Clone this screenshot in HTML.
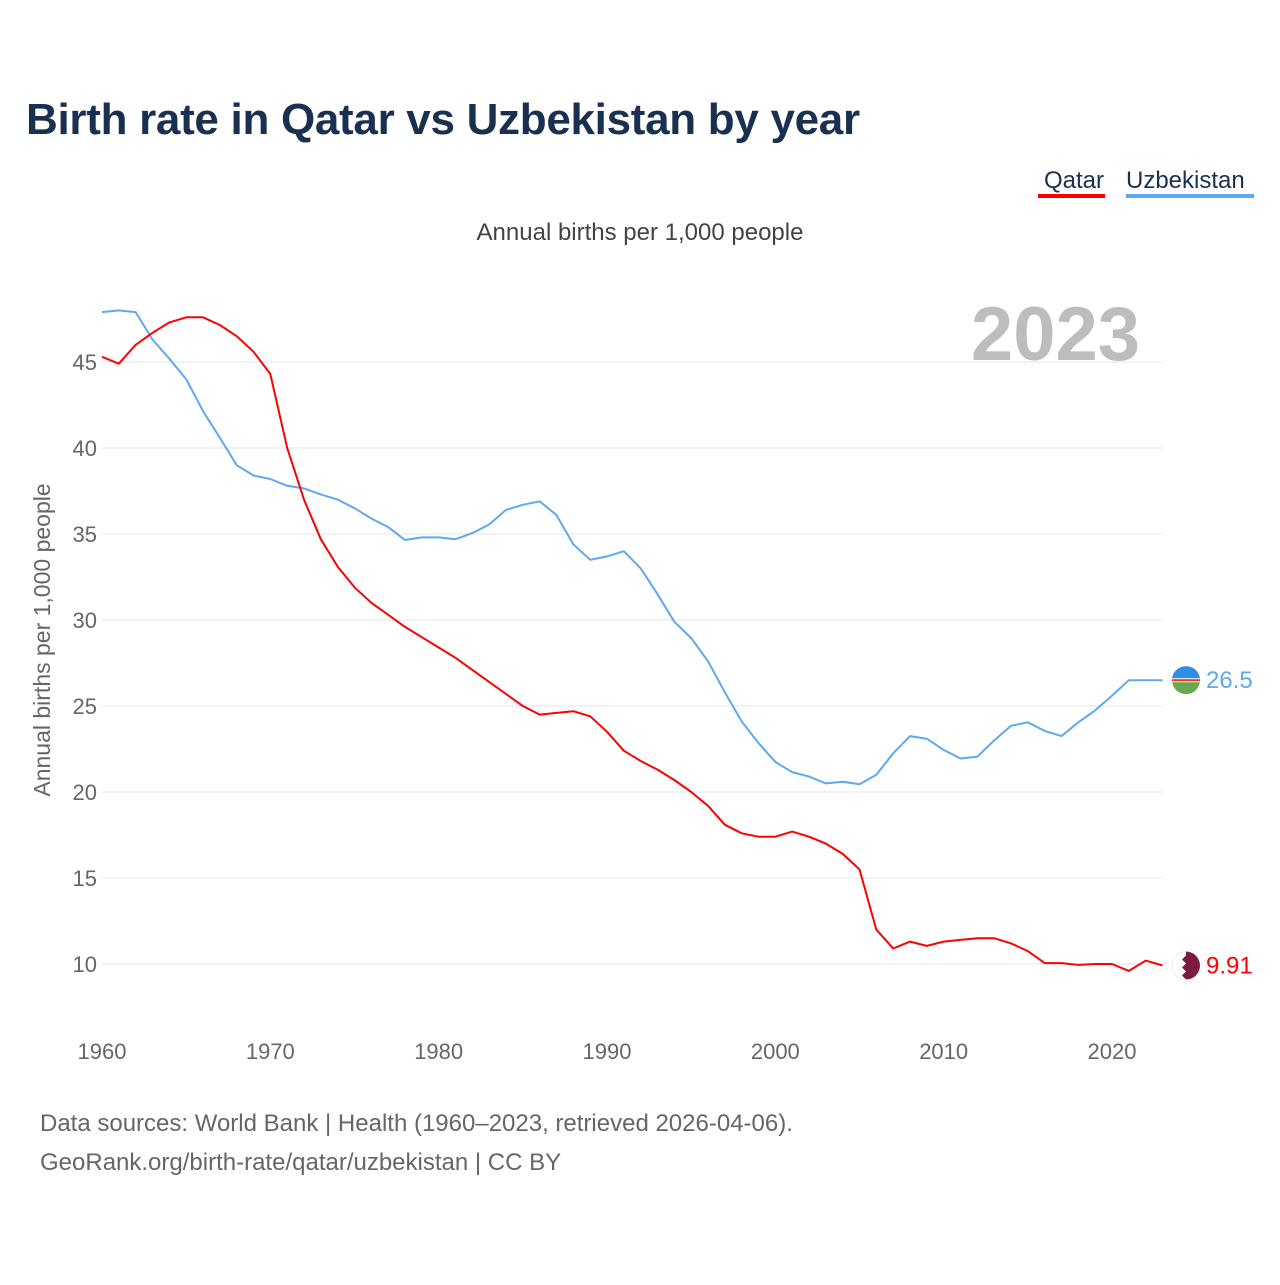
<!DOCTYPE html>
<html><head><meta charset="utf-8">
<style>
body{margin:0;background:#fff;font-family:"Liberation Sans",sans-serif;}
svg text{font-family:"Liberation Sans",sans-serif;}
</style></head>
<body>
<svg width="1280" height="1280" xmlns="http://www.w3.org/2000/svg">
<text x="26" y="134" font-size="44" font-weight="bold" fill="#1a3050" letter-spacing="-0.3">Birth rate in Qatar vs Uzbekistan by year</text>
<g>
<text x="1104" y="188" font-size="24" fill="#1a3050" text-anchor="end">Qatar</text>
<rect x="1038" y="194" width="67" height="4" fill="#ff0000"/>
<text x="1126" y="188" font-size="24" fill="#1a3050">Uzbekistan</text>
<rect x="1126" y="194" width="128" height="4" fill="#5ea8ee"/>
</g>
<text x="640" y="240" font-size="24" fill="#444" text-anchor="middle">Annual births per 1,000 people</text>
<text x="1140" y="360" font-size="76" font-weight="bold" fill="#bdbdbd" text-anchor="end">2023</text>
<text transform="translate(50,640) rotate(-90)" font-size="23" fill="#666" text-anchor="middle">Annual births per 1,000 people</text>
<g id="grid"></g><g id="yticks"></g><g id="xticks"></g><g id="lines"></g><g id="ends"></g>
<text x="40" y="1131" font-size="24" fill="#666">Data sources: World Bank | Health (1960–2023, retrieved 2026-04-06).</text>
<text x="40" y="1170" font-size="24" fill="#666">GeoRank.org/birth-rate/qatar/uzbekistan | CC BY</text>
</svg>
<script>
const years=[];for(let y=1960;y<=2023;y++)years.push(y);
const qatar=[45.3,44.9,46.0,46.7,47.3,47.6,47.6,47.15,46.5,45.6,44.3,40,37,34.7,33.1,31.9,31.0,30.3,29.6,29.0,28.4,27.8,27.1,26.4,25.7,25.0,24.5,24.6,24.7,24.4,23.5,22.4,21.8,21.3,20.7,20.0,19.2,18.1,17.6,17.4,17.4,17.7,17.4,17.0,16.4,15.5,12.0,10.9,11.3,11.05,11.3,11.4,11.5,11.5,11.2,10.75,10.05,10.05,9.95,10.0,10.0,9.6,10.2,9.91];
const uzbek=[47.9,48.0,47.9,46.3,45.2,44.0,42.15,40.6,39.0,38.4,38.2,37.8,37.65,37.3,37.0,36.5,35.9,35.4,34.65,34.8,34.8,34.7,35.05,35.55,36.4,36.7,36.9,36.1,34.4,33.5,33.7,34.0,33.0,31.5,29.9,28.95,27.6,25.8,24.1,22.85,21.75,21.15,20.9,20.5,20.6,20.45,21.0,22.25,23.25,23.1,22.45,21.95,22.05,23.0,23.85,24.05,23.55,23.25,24.05,24.75,25.6,26.5,26.5,26.5];
const yTicks=[10,15,20,25,30,35,40,45];
const xTicks=[1960,1970,1980,1990,2000,2010,2020];
const NS="http://www.w3.org/2000/svg";
const X=y=>102+(y-1960)*(1010/60);
const Y=v=>964-(v-10)*(602/35);
function mk(t,a,p){const e=document.createElementNS(NS,t);for(const k in a)e.setAttribute(k,a[k]);p.appendChild(e);return e;}
const grid=document.getElementById('grid'),yt=document.getElementById('yticks'),xt=document.getElementById('xticks');
yTicks.forEach(v=>{
 const l=mk('line',{x1:102,x2:1162,y1:Y(v),y2:Y(v),stroke:'#e6e6e6','stroke-width':1},grid);
 
 
 const t=mk('text',{x:97,y:Y(v)+8,'font-size':22,fill:'#666','text-anchor':'end'},yt);
 t.textContent=v;
 
 
});
xTicks.forEach(v=>{
 const t=mk('text',{x:X(v),y:1059,'font-size':22,fill:'#666','text-anchor':'middle'},xt);
 t.textContent=v;
 
 
});
const lines=document.getElementById('lines'),ends=document.getElementById('ends');
function series(vals,col,name,label){
 const d=vals.map((v,i)=>(i?'L':'M')+X(years[i]).toFixed(1)+','+Y(v).toFixed(1)).join(' ');
 const p=mk('path',{d:d,fill:'none',stroke:col,'stroke-width':2,'stroke-linejoin':'round'},lines);
 
 
 const lv=vals[vals.length-1],cy=Y(lv);
 const c=mk('circle',{cx:1186,cy:cy,r:14,fill:name==='qatar'?'#7d1a3f':'#6aa84f'},ends);
 
 
 if(name==='uzbekistan'){mk('path',{d:`M1172,${cy} a14,14 0 0 1 28,0 z`,fill:'#2e8ee6'},ends);mk('rect',{x:1172,y:cy-2,width:28,height:4,fill:'#fff'},ends);mk('rect',{x:1172,y:cy-1,width:28,height:2,fill:'#e33'},ends);}
 else{mk('path',{d:`M1186,${cy-14} a14,14 0 0 0 0,28 l-4,-4 4,-4 -4,-4 4,-4 -4,-4 4,-4 z`,fill:'#fff'},ends);}
 const t=mk('text',{x:1206,y:cy+8,'font-size':24,fill:col},ends);
 t.textContent=label;
 
 
}
series(uzbek,'#5ea8ee','uzbekistan','26.5');
series(qatar,'#ff0000','qatar','9.91');
</script>
</body></html>
